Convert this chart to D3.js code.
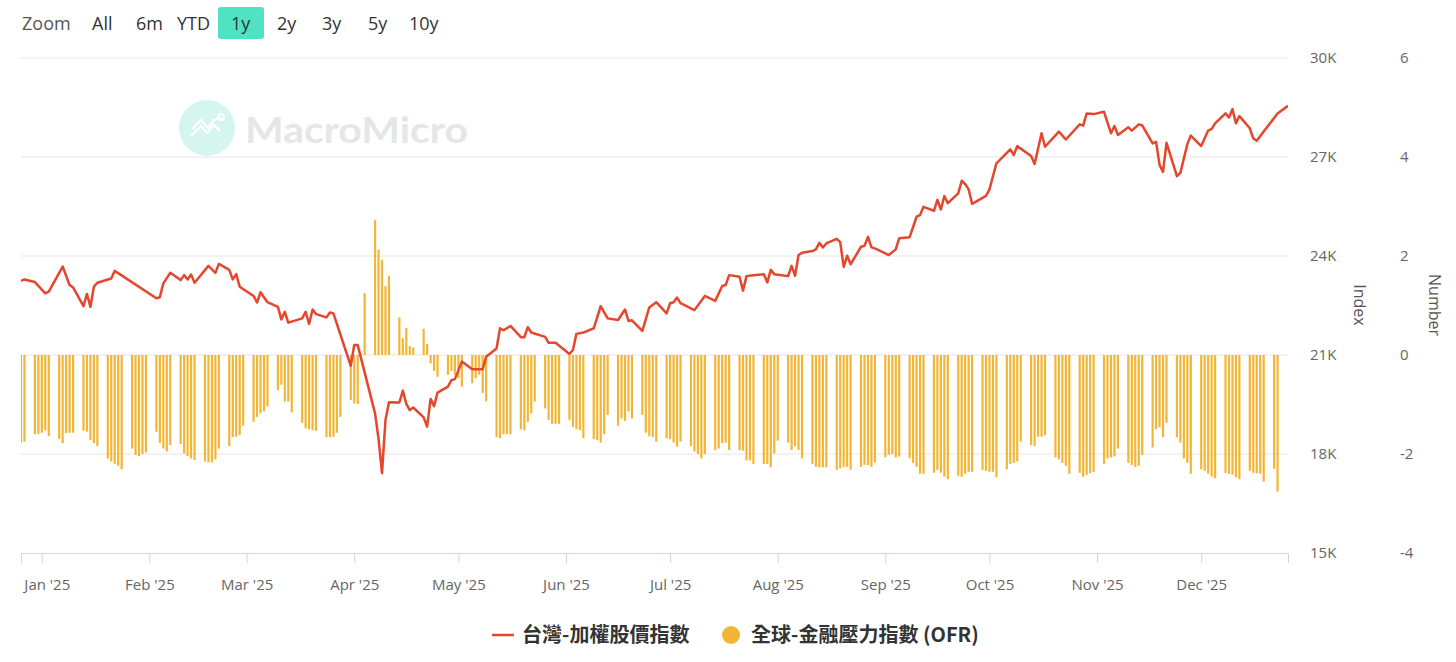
<!DOCTYPE html>
<html>
<head>
<meta charset="utf-8">
<script src="https://cdn.jsdelivr.net/npm/d3@7"></script>
<style>
  body { margin: 0; background: #fff; }
  svg { display: block; font-family: "Open Sans", "Noto Sans", sans-serif; }
</style>
</head>
<body>
<div id="chart"></div>
<script>
// 台灣加權指數 (daily close, trading days)
var taiexDates = [
  "2024-12-26","2024-12-27","2024-12-30","2025-01-02","2025-01-03","2025-01-07","2025-01-09","2025-01-10",
  "2025-01-13","2025-01-14","2025-01-15","2025-01-16","2025-01-17","2025-01-21","2025-01-22","2025-02-03",
  "2025-02-04","2025-02-05","2025-02-07","2025-02-10","2025-02-11","2025-02-12","2025-02-13","2025-02-14",
  "2025-02-18","2025-02-20","2025-02-21","2025-02-24","2025-02-25","2025-02-26","2025-02-27","2025-03-03",
  "2025-03-04","2025-03-05","2025-03-07","2025-03-10","2025-03-11","2025-03-12","2025-03-13","2025-03-17",
  "2025-03-18","2025-03-19","2025-03-20","2025-03-21","2025-03-24","2025-03-25","2025-03-26","2025-03-31",
  "2025-04-01","2025-04-02","2025-04-07","2025-04-08","2025-04-09","2025-04-10","2025-04-11","2025-04-14",
  "2025-04-15","2025-04-16","2025-04-17","2025-04-18","2025-04-21","2025-04-22","2025-04-23","2025-04-24",
  "2025-04-25","2025-04-28","2025-04-29","2025-04-30","2025-05-02","2025-05-05","2025-05-08","2025-05-09",
  "2025-05-12","2025-05-13","2025-05-14","2025-05-16","2025-05-19","2025-05-20","2025-05-21","2025-05-22",
  "2025-05-26","2025-05-27","2025-05-29","2025-06-02","2025-06-03","2025-06-04","2025-06-06","2025-06-09",
  "2025-06-11","2025-06-13","2025-06-16","2025-06-18","2025-06-19","2025-06-20","2025-06-23","2025-06-25",
  "2025-06-27","2025-06-30","2025-07-01","2025-07-02","2025-07-03","2025-07-04","2025-07-08","2025-07-11",
  "2025-07-14","2025-07-16","2025-07-17","2025-07-18","2025-07-21","2025-07-22","2025-07-23","2025-07-25",
  "2025-07-28","2025-07-29","2025-07-30","2025-07-31","2025-08-04","2025-08-05","2025-08-06","2025-08-07",
  "2025-08-08","2025-08-11","2025-08-12","2025-08-13","2025-08-14","2025-08-15","2025-08-18","2025-08-19",
  "2025-08-20","2025-08-21","2025-08-22","2025-08-25","2025-08-26","2025-08-27","2025-08-28","2025-08-29",
  "2025-09-02","2025-09-04","2025-09-05","2025-09-08","2025-09-10","2025-09-11","2025-09-12","2025-09-15",
  "2025-09-16","2025-09-17","2025-09-18","2025-09-19","2025-09-22","2025-09-23","2025-09-24","2025-09-25",
  "2025-09-26","2025-09-30","2025-10-01","2025-10-03","2025-10-07","2025-10-08","2025-10-09","2025-10-13",
  "2025-10-14","2025-10-16","2025-10-17","2025-10-21","2025-10-23","2025-10-27","2025-10-28","2025-10-29",
  "2025-10-31","2025-11-03","2025-11-05","2025-11-06","2025-11-07","2025-11-10","2025-11-11","2025-11-13",
  "2025-11-14","2025-11-17","2025-11-18","2025-11-19","2025-11-20","2025-11-21","2025-11-24","2025-11-25",
  "2025-11-27","2025-11-28","2025-12-01","2025-12-03","2025-12-04","2025-12-05","2025-12-08","2025-12-09",
  "2025-12-10","2025-12-11","2025-12-12","2025-12-15","2025-12-16","2025-12-17","2025-12-19","2025-12-23",
  "2025-12-26"
];
var taiexValues = [
  23250,23290,23210,22870,22920,23680,23120,23050,
  22480,22850,22460,23070,23190,23320,23550,22720,
  22750,23170,23490,23270,23420,23290,23440,23190,
  23700,23490,23760,23580,23290,23450,23070,22790,
  22590,22900,22600,22460,22080,22310,21980,22110,
  22310,21940,22380,22240,22140,22290,22260,20670,
  21300,21300,19230,18460,17420,19030,19570,19560,
  19920,19520,19330,19410,19110,18830,19670,19450,
  19860,20040,20240,20270,20800,20570,20570,20950,
  21200,21810,21750,21880,21540,21540,21840,21680,
  21550,21370,21370,21030,21150,21640,21680,21810,
  22480,22110,22060,22380,22030,22050,21730,22440,
  22600,22260,22570,22600,22740,22570,22360,22790,
  22640,23090,23120,23420,23370,22950,23390,23420,
  23450,23200,23580,23450,23390,23700,23400,24030,
  24100,24150,24200,24400,24260,24380,24520,24420,
  23670,24010,23750,24280,24310,24580,24260,24230,
  24030,24200,24540,24570,25190,25240,25490,25370,
  25700,25410,25820,25600,25900,26280,26180,26020,
  25580,25820,26020,26810,27230,27060,27330,27030,
  26790,27720,27310,27770,27530,27990,27950,28320,
  28300,28370,27720,27940,27670,27900,27800,27990,
  27960,27410,27460,26760,26550,27430,26420,26520,
  27390,27650,27330,27800,27850,28020,28320,28200,
  28450,28020,28240,27870,27560,27490,27770,28320,
  28550
];

// 全球金融壓力指數 (OFR), one value per weekday from 2024-12-26 to 2025-12-23
var ofrStart = "2024-12-26", ofrEnd = "2025-12-23";
var ofrValues = [
  -1.77,-1.75,
  -1.60,-1.60,-1.57,-1.52,-1.64,
  -1.70,-1.78,-1.58,-1.57,-1.57,
  -1.53,-1.55,-1.72,-1.78,-1.84,
  -2.09,-2.15,-2.20,-2.24,-2.31,
  -1.89,-2.02,-2.04,-2.00,-1.97,
  -1.55,-1.78,-1.89,-1.95,-1.82,
  -1.80,-1.99,-2.04,-2.09,-2.12,
  -2.15,-2.17,-2.17,-2.11,-1.89,
  -1.84,-1.66,-1.65,-1.62,-1.43,
  -1.35,-1.25,-1.18,-1.14,-1.04,
  -0.71,-0.60,-0.94,-0.94,-1.16,
  -1.37,-1.48,-1.50,-1.52,-1.53,
  -1.66,-1.66,-1.65,-1.57,-1.25,
  -0.91,-0.98,-0.99,0.02,1.25,
  2.73,2.13,1.92,1.39,1.60,
  0.76,0.34,0.55,0.18,0.15,
  0.53,0.22,-0.17,-0.32,-0.44,
  -0.40,-0.32,-0.40,-0.47,-0.64,
  -0.57,-0.47,-0.40,-0.77,-0.94,
  -1.66,-1.68,-1.60,-1.60,-1.60,
  -1.50,-1.52,-1.35,-1.18,-0.94,
  -1.08,-1.31,-1.39,-1.39,-1.39,
  -1.31,-1.46,-1.50,-1.52,-1.68,
  -1.70,-1.72,-1.77,-1.60,-1.21,
  -1.43,-1.28,-1.33,-1.14,-1.28,
  -1.21,-1.57,-1.64,-1.66,-1.75,
  -1.68,-1.70,-1.77,-1.85,-1.75,
  -1.84,-1.95,-2.00,-2.09,-2.00,
  -1.92,-1.89,-1.78,-1.77,-1.92,
  -1.92,-1.93,-2.13,-2.13,-2.20,
  -2.20,-2.20,-2.27,-1.99,-1.73,
  -1.77,-1.92,-1.84,-1.92,-2.09,
  -2.20,-2.26,-2.27,-2.27,-2.27,
  -2.32,-2.29,-2.26,-2.26,-2.32,
  -2.26,-2.22,-2.22,-2.26,-2.17,
  -2.07,-2.02,-2.00,-2.07,-2.05,
  -2.09,-2.18,-2.26,-2.40,-2.40,
  -2.38,-2.32,-2.38,-2.46,-2.51,
  -2.44,-2.46,-2.40,-2.36,-2.36,
  -2.32,-2.34,-2.36,-2.36,-2.47,
  -2.31,-2.20,-2.18,-2.15,-1.75,
  -1.82,-1.84,-1.65,-1.65,-1.62,
  -2.07,-2.11,-2.18,-2.24,-2.40,
  -2.38,-2.46,-2.42,-2.39,-2.36,
  -2.20,-2.09,-2.07,-2.05,-1.89,
  -2.18,-2.22,-2.26,-2.24,-2.02,
  -1.87,-1.50,-1.46,-1.66,-1.37,
  -1.66,-1.77,-2.09,-2.18,-2.40,
  -2.31,-2.34,-2.40,-2.46,-2.49,
  -2.38,-2.40,-2.42,-2.47,-2.51,
  -2.34,-2.38,-2.39,-2.40,-2.56,
  -2.30,-2.76
];

var indexTicks = [15000, 18000, 21000, 24000, 27000, 30000];
var numberTicks = [-4, -2, 0, 2, 4, 6];
var rangeButtons = ["All", "6m", "YTD", "1y", "2y", "3y", "5y", "10y"];
var seriesNames = ["台灣-加權股價指數", "全球-金融壓力指數 (OFR)"];

var red = "#e4472d", gold = "#f2b636";
var width = 1456, height = 662;
// plot box (note: "top" is reserved on window, so use plot* names)
var plotL = 21, plotR = 1288, plotT = 58, plotB = 553;

var parse = d3.utcParse("%Y-%m-%d");
var lineData = taiexDates.map(function(d, i) { return { date: parse(d), value: taiexValues[i] }; });
var ofrDates = d3.utcDay.range(parse(ofrStart), d3.utcDay.offset(parse(ofrEnd), 1))
  .filter(function(d) { return d.getUTCDay() !== 0 && d.getUTCDay() !== 6; });
var barData = ofrDates.map(function(d, i) { return { date: d, value: ofrValues[i] }; });

var x = d3.scaleUtc().domain([parse("2024-12-26"), parse("2025-12-26")]).range([plotL, plotR]);
var yIndex = d3.scaleLinear().domain([15000, 30000]).range([plotB, plotT]);
var yNum = d3.scaleLinear().domain([-4, 6]).range([plotB, plotT]);

var svg = d3.select("#chart").append("svg").attr("width", width).attr("height", height);

// range selector
var rs = svg.append("g").attr("font-size", 18).attr("fill", "#333");
rs.append("text").attr("x", 22).attr("y", 30).attr("fill", "#555").text("Zoom");
var btnX = [92, 136, 177, 231, 277, 322, 368, 409];
rs.append("rect").attr("x", 218).attr("y", 7).attr("width", 46).attr("height", 32).attr("rx", 3).attr("fill", "#4fe3c3");
rs.selectAll(".btn").data(rangeButtons).enter().append("text").attr("class", "btn")
  .attr("x", function(d, i) { return btnX[i]; }).attr("y", 30).text(function(d) { return d; });

// watermark
var wm = svg.append("g");
wm.append("circle").attr("cx", 207).attr("cy", 128).attr("r", 28).attr("fill", "#d5f6ee");
wm.append("polyline").attr("points", "191,136 201,126 207,133 214,125 220,131")
  .attr("fill", "none").attr("stroke", "#fff").attr("stroke-width", 2.2).attr("stroke-linejoin", "round");
wm.append("polyline").attr("points", "192,129 201,120 208,128 214,120 221,118")
  .attr("fill", "none").attr("stroke", "#fff").attr("stroke-width", 2.2).attr("stroke-linejoin", "round");
wm.append("circle").attr("cx", 221).attr("cy", 117).attr("r", 3).attr("fill", "none").attr("stroke", "#fff").attr("stroke-width", 2);
wm.append("text").attr("x", 245).attr("y", 143).attr("font-size", 37).attr("font-weight", 700)
  .attr("font-family", "Lato, 'Open Sans', sans-serif").attr("fill", "#e6e6e6")
  .attr("textLength", 223).attr("lengthAdjust", "spacingAndGlyphs").text("MacroMicro");

// grid lines
svg.append("g").selectAll("line").data(indexTicks.slice(1)).enter().append("line")
  .attr("x1", plotL).attr("x2", plotR)
  .attr("y1", function(d) { return yIndex(d); }).attr("y2", function(d) { return yIndex(d); })
  .attr("stroke", "#e6e6e6").attr("stroke-width", 1);

svg.append("defs").append("clipPath").attr("id", "plot")
  .append("rect").attr("x", plotL).attr("y", plotT - 5).attr("width", plotR - plotL).attr("height", plotB - plotT + 10);

// OFR bars
var barW = 2.2;
svg.append("g").attr("clip-path", "url(#plot)").selectAll("rect").data(barData).enter().append("rect")
  .attr("x", function(d) { return x(d.date) - barW / 2; })
  .attr("y", function(d) { return Math.min(yNum(d.value), yNum(0)); })
  .attr("width", barW)
  .attr("height", function(d) { return Math.abs(yNum(d.value) - yNum(0)); })
  .attr("fill", gold);

// TAIEX line
var line = d3.line().x(function(d) { return x(d.date); }).y(function(d) { return yIndex(d.value); });
svg.append("path").datum(lineData).attr("clip-path", "url(#plot)")
  .attr("d", line).attr("fill", "none").attr("stroke", red).attr("stroke-width", 2.5)
  .attr("stroke-linejoin", "round");

// x axis
var xAxis = svg.append("g").attr("transform", "translate(0," + plotB + ")")
  .call(d3.axisBottom(x).ticks(d3.utcMonth.every(1)).tickSize(10).tickPadding(16)
    .tickFormat(d3.utcFormat("%b '%y")));
xAxis.select(".domain").attr("stroke", "#ccd6eb");
xAxis.selectAll(".tick line").attr("stroke", "#ccd6eb");
xAxis.selectAll("text").attr("font-size", 15).attr("fill", "#666").attr("font-family", "'Open Sans', sans-serif");
xAxis.selectAll(".tick").filter(function(d) { return x(d) < plotL || x(d) > plotR; }).remove();
// first label is nudged right so it stays inside the plot, as in the original
xAxis.selectAll(".tick text").filter(function(d, i) { return i === 0; }).attr("x", 5);

// right axes
var yAxis1 = svg.append("g").attr("transform", "translate(1310,0)")
  .call(d3.axisRight(yIndex).tickValues(indexTicks).tickSize(0).tickPadding(0)
    .tickFormat(function(d) { return d / 1000 + "K"; }));
var yAxis2 = svg.append("g").attr("transform", "translate(1400,0)")
  .call(d3.axisRight(yNum).tickValues(numberTicks).tickSize(0).tickPadding(0)
    .tickFormat(function(d) { return String(d); }));
[yAxis1, yAxis2].forEach(function(a) {
  a.select(".domain").remove();
  a.selectAll("text").attr("font-size", 15).attr("fill", "#666").attr("font-family", "'Open Sans', sans-serif");
});

svg.append("text").attr("transform", "translate(1354,305) rotate(90)").attr("text-anchor", "middle")
  .attr("font-size", 16).attr("fill", "#555").text("Index");
svg.append("text").attr("transform", "translate(1429,305) rotate(90)").attr("text-anchor", "middle")
  .attr("font-size", 16).attr("fill", "#555").text("Number");

// legend
var lg = svg.append("g").attr("font-size", 20).attr("font-weight", 700).attr("fill", "#333")
  .attr("font-family", "'Noto Sans CJK TC', 'Noto Sans', sans-serif");
lg.append("line").attr("x1", 492).attr("x2", 514).attr("y1", 635).attr("y2", 635)
  .attr("stroke", red).attr("stroke-width", 2.5);
lg.append("text").attr("x", 522).attr("y", 642).text(seriesNames[0]);
lg.append("circle").attr("cx", 731).attr("cy", 635).attr("r", 9).attr("fill", gold);
lg.append("text").attr("x", 751).attr("y", 642).text(seriesNames[1]);
</script>
</body>
</html>
